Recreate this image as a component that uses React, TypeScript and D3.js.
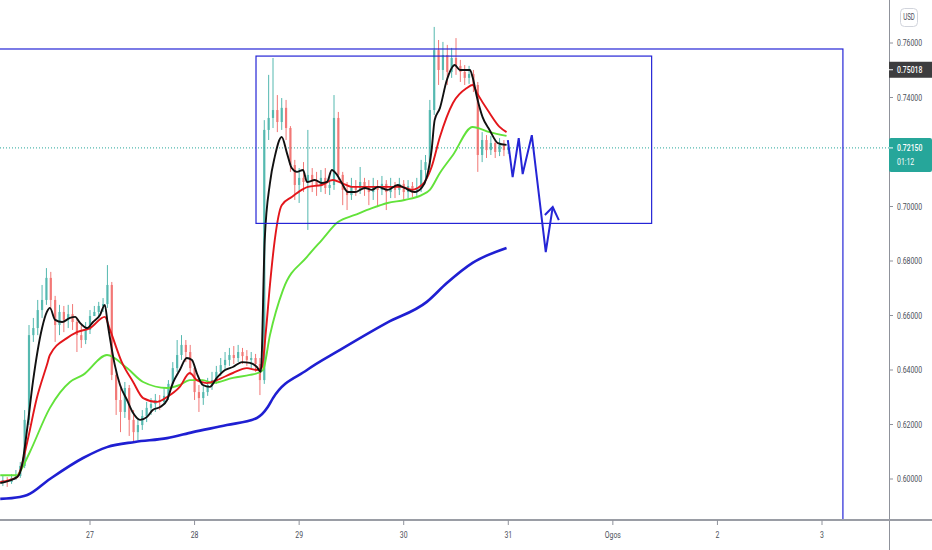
import React from 'react';
import * as d3 from 'd3';

const W = 932;
const H = 550;
const AXIS_X = 889; // right price axis
const AXIS_Y = 520; // bottom time axis

const DAY0 = Date.UTC(2020, 6, 27);
const at = (h: number) => new Date(DAY0 + h * 3600e3);

// hourly candles, first bar = 26 Jul 04:00 (hour -20), open of each bar = previous close
const FIRST_HOUR = -20;
const firstOpen = 0.5985;
const closes = [
  0.5996, 0.5989, 0.6004, 0.6011, 0.6048, 0.6217, 0.6528, 0.6554, 0.6620, 0.6657,
  0.6738, 0.6657, 0.6565, 0.6613, 0.6584, 0.6605, 0.6576, 0.6528, 0.6510, 0.6547,
  0.6598, 0.6613, 0.6635, 0.6642, 0.6712, 0.6382, 0.6290, 0.6246, 0.6334, 0.6217,
  0.6172, 0.6198, 0.6231, 0.6261, 0.6275, 0.6290, 0.6283, 0.6305, 0.6349, 0.6407,
  0.6455, 0.6492, 0.6466, 0.6407, 0.6319, 0.6297, 0.6319, 0.6345, 0.6363, 0.6393,
  0.6418, 0.6437, 0.6455, 0.6444, 0.6466, 0.6451, 0.6437, 0.6444, 0.6422, 0.6363,
  0.7281, 0.7325, 0.7354, 0.7310, 0.7362, 0.7288, 0.7152, 0.7079, 0.7105, 0.7090,
  0.7116, 0.7097, 0.7075, 0.7105, 0.7068, 0.7079, 0.7325, 0.7116, 0.7061, 0.7042,
  0.7075, 0.7061, 0.7090, 0.7068, 0.7053, 0.7075, 0.7061, 0.7083, 0.7053, 0.7075,
  0.7061, 0.7083, 0.7053, 0.7075, 0.7061, 0.7068, 0.7134, 0.7163, 0.7354, 0.7574,
  0.7501, 0.7556, 0.7494, 0.7545, 0.7516, 0.7494, 0.7472, 0.7486, 0.7446, 0.7189,
  0.7244, 0.7207, 0.7233, 0.7200, 0.7226, 0.7207, 0.7215,
];
const highs = [
  0.6011, 0.6007, 0.6018, 0.6033, 0.6062, 0.6253, 0.6565, 0.6591, 0.6657, 0.6712,
  0.6774, 0.6760, 0.6672, 0.6639, 0.6635, 0.6639, 0.6642, 0.6591, 0.6565, 0.6576,
  0.6620, 0.6635, 0.6650, 0.6664, 0.6785, 0.6723, 0.6400, 0.6334, 0.6356, 0.6345,
  0.6253, 0.6224, 0.6253, 0.6283, 0.6297, 0.6312, 0.6308, 0.6334, 0.6363, 0.6429,
  0.6510, 0.6528, 0.6510, 0.6492, 0.6418, 0.6345, 0.6341, 0.6371, 0.6393, 0.6415,
  0.6444, 0.6466, 0.6481, 0.6488, 0.6492, 0.6481, 0.6473, 0.6466, 0.6459, 0.6444,
  0.7317, 0.7483, 0.7545, 0.7409, 0.7398, 0.7391, 0.7295, 0.7171, 0.7141, 0.7163,
  0.7281, 0.7141, 0.7127, 0.7134, 0.7141, 0.7112, 0.7409, 0.7347, 0.7127, 0.7090,
  0.7105, 0.7097, 0.7145, 0.7105, 0.7097, 0.7105, 0.7097, 0.7112, 0.7097, 0.7105,
  0.7090, 0.7105, 0.7097, 0.7097, 0.7090, 0.7105, 0.7171, 0.7189, 0.7391, 0.7659,
  0.7611, 0.7604, 0.7593, 0.7582, 0.7618, 0.7538, 0.7519, 0.7516, 0.7501, 0.7457,
  0.7273, 0.7262, 0.7259, 0.7244, 0.7251, 0.7244, 0.7237,
];
const lows = [
  0.5974, 0.5971, 0.5982, 0.5996, 0.6004, 0.6040, 0.6198, 0.6503, 0.6528, 0.6591,
  0.6639, 0.6620, 0.6503, 0.6528, 0.6539, 0.6554, 0.6547, 0.6466, 0.6481, 0.6495,
  0.6532, 0.6598, 0.6591, 0.6613, 0.6628, 0.6363, 0.6235, 0.6172, 0.6224, 0.6158,
  0.6136, 0.6143, 0.6180, 0.6209, 0.6235, 0.6246, 0.6253, 0.6272, 0.6290, 0.6334,
  0.6393, 0.6437, 0.6429, 0.6382, 0.6290, 0.6246, 0.6272, 0.6305, 0.6327, 0.6349,
  0.6378, 0.6400, 0.6415, 0.6422, 0.6429, 0.6422, 0.6415, 0.6407, 0.6393, 0.6308,
  0.6349, 0.7244, 0.7288, 0.7273, 0.7281, 0.7244, 0.7127, 0.7024, 0.7013, 0.7053,
  0.6914, 0.7053, 0.7039, 0.7053, 0.7046, 0.7042, 0.7061, 0.7097, 0.7005, 0.6987,
  0.7024, 0.7039, 0.7046, 0.7039, 0.7005, 0.7024, 0.6998, 0.7042, 0.6987, 0.7031,
  0.7031, 0.7042, 0.7024, 0.7031, 0.7035, 0.7039, 0.7053, 0.7105, 0.7134, 0.7336,
  0.7446, 0.7464, 0.7446, 0.7472, 0.7483, 0.7457, 0.7446, 0.7450, 0.7420, 0.7127,
  0.7163, 0.7178, 0.7189, 0.7178, 0.7185, 0.7185, 0.7193,
];

// moving averages: [hour, price]
const maFast: [number, number][] = [
  [-20.6, 0.5985], [-16.7, 0.6007], [-15.6, 0.6051], [-14.4, 0.6187], [-13.1, 0.6356],
  [-11.0, 0.6554], [-9.9, 0.6613], [-9.2, 0.6628], [-8.0, 0.6584], [-6.4, 0.6576],
  [-4.6, 0.6591], [-3.4, 0.6595], [-2.3, 0.6573], [-0.7, 0.6554], [0.7, 0.6576],
  [2.3, 0.6602], [3.4, 0.6639], [4.1, 0.6565], [5.7, 0.6418], [6.9, 0.6345],
  [8.5, 0.6290], [9.9, 0.6242], [11.5, 0.6217], [13.1, 0.6228], [14.4, 0.6253],
  [16.1, 0.6264], [17.7, 0.6290], [19.0, 0.6352], [20.6, 0.6400], [22.2, 0.6444],
  [23.4, 0.6437], [24.5, 0.6389], [25.9, 0.6345], [27.5, 0.6338], [29.1, 0.6371],
  [31.0, 0.6400], [32.8, 0.6411], [34.9, 0.6429], [36.7, 0.6426], [38.3, 0.6411],
  [39.2, 0.6393], [40.1, 0.6877], [41.3, 0.7086], [42.4, 0.7182], [44.0, 0.7255],
  [45.2, 0.7196], [46.3, 0.7141], [47.5, 0.7127], [48.9, 0.7134], [49.8, 0.7090],
  [51.6, 0.7097], [53.2, 0.7086], [54.4, 0.7090], [55.5, 0.7134], [56.7, 0.7116],
  [57.8, 0.7086], [59.2, 0.7053], [60.8, 0.7053], [63.1, 0.7068], [64.7, 0.7061],
  [66.1, 0.7072], [68.3, 0.7061], [70.6, 0.7079], [72.2, 0.7068], [74.5, 0.7053],
  [76.1, 0.7068], [77.3, 0.7108], [78.4, 0.7207], [79.1, 0.7317], [80.3, 0.7361],
  [81.9, 0.7464], [83.7, 0.7519], [84.9, 0.7501], [87.2, 0.7501], [87.8, 0.7475],
  [88.8, 0.7402], [90.1, 0.7328], [91.7, 0.7281], [93.6, 0.7233], [95.6, 0.7226],
];
const maMid: [number, number][] = [
  [-20.6, 0.5989], [-16.7, 0.6007], [-16.1, 0.6026], [-14.4, 0.6136], [-12.2, 0.6297],
  [-9.9, 0.6418], [-9.2, 0.6455], [-5.3, 0.6517], [-3.0, 0.6539], [0, 0.6554],
  [3.4, 0.6595], [4.6, 0.6547], [7.3, 0.6429], [9.9, 0.6356], [12.2, 0.6297],
  [15.4, 0.6283], [17.7, 0.6301], [20.6, 0.6338], [22.9, 0.6389], [24.5, 0.6363],
  [26.8, 0.6352], [29.1, 0.6363], [32.8, 0.6389], [36.0, 0.6407], [38.3, 0.6400],
  [39.4, 0.6407], [40.4, 0.6547], [41.3, 0.6712], [42.4, 0.6877], [44.0, 0.7005],
  [46.3, 0.7035], [48.6, 0.7061], [50.0, 0.7072], [53.2, 0.7079], [55.7, 0.7097],
  [57.8, 0.7086], [60.1, 0.7072], [63.1, 0.7072], [68.3, 0.7072], [71.6, 0.7072],
  [73.9, 0.7061], [75.2, 0.7068], [76.8, 0.7090], [78.4, 0.7145], [80.3, 0.7255],
  [83.3, 0.7380], [86.5, 0.7435], [87.8, 0.7446], [88.8, 0.7417], [91.7, 0.7343],
  [94.0, 0.7292], [95.6, 0.7273],
];
const maSlow: [number, number][] = [
  [-20.6, 0.6014], [-16.7, 0.6014], [-16.1, 0.6026], [-13.8, 0.6099], [-9.2, 0.6261],
  [-4.6, 0.6356], [-1.6, 0.6382], [3.9, 0.6455], [8.5, 0.6407], [12.2, 0.6356],
  [17.7, 0.6334], [20.6, 0.6345], [22.9, 0.6363], [25.9, 0.6363], [28.2, 0.6352],
  [32.8, 0.6371], [36.7, 0.6382], [38.5, 0.6389], [39.7, 0.6400], [41.3, 0.6528],
  [44.3, 0.6694], [49.8, 0.6815], [53.2, 0.6877], [56.9, 0.6943], [60.8, 0.6969],
  [64.7, 0.6994], [68.3, 0.7013], [72.2, 0.7024], [76.1, 0.7042], [78.0, 0.7061],
  [80.3, 0.7123], [83.3, 0.7189], [87.8, 0.7292], [91.7, 0.7273], [95.6, 0.7259],
];
const ma200: [number, number][] = [
  [-20.6, 0.5927], [-16.1, 0.5934], [-14.4, 0.5941], [-9.2, 0.6000], [-1.6, 0.6077],
  [3.9, 0.6117], [10.3, 0.6136], [17.7, 0.6150], [23.6, 0.6172], [31.4, 0.6198],
  [38.3, 0.6224], [40.8, 0.6264], [42.0, 0.6297], [49.8, 0.6400], [57.3, 0.6473],
  [68.1, 0.6573], [77.3, 0.6650], [81.9, 0.6719], [87.8, 0.6793], [95.6, 0.6848],
];

// drawings on the chart
const outerBox = { from: -40, to: 172.8, top: 0.7578, bottom: 0.55 };
const innerBox = { from: 38.1, to: 128.9, top: 0.7552, bottom: 0.6938 };
const zigzag: [number, number][] = [
  [95.9, 0.7244], [97.0, 0.7108], [98.4, 0.7251], [99.3, 0.7119], [101.4, 0.7262],
  [104.6, 0.6833], [106.2, 0.6998],
];
const arrowHead: [number, number][] = [[104.4, 0.6969], [106.2, 0.6998], [107.6, 0.6950]];

const lastPrice = 0.7215;
const lastLabel = '0.72150';
const countdown = '01:12';
const markPrice = 0.75018;
const markLabel = '0.75018';

const priceTicks = [0.6, 0.62, 0.64, 0.66, 0.68, 0.7, 0.72, 0.74, 0.76];
const dayTicks = [0, 1, 2, 3, 4, 5, 6, 7];
const dayLabels = ['27', '28', '29', '30', '31', 'Ogos', '2', '3'];

const x = d3.scaleUtc().domain([at(0), at(7 * 24)]).range([90, 822]);
const y = d3.scaleLinear().domain([0.6, 0.76]).range([479, 43]);

const UP = '#26a69a';
const DOWN = '#ef5350';
const DRAW = '#2525d6';
const TEXT = '#4c4f59';
const FONT = 'Roboto, sans-serif';

const maLine = d3
  .line<[number, number]>()
  .x((d) => x(at(d[0])))
  .y((d) => y(d[1]))
  .curve(d3.curveMonotoneX);

const straight = d3
  .line<[number, number]>()
  .x((d) => x(at(d[0])))
  .y((d) => y(d[1]));

const Narrow: React.FC<{ x: number; y: number; anchor?: string; fill?: string; size?: number; weight?: number; children: React.ReactNode }> = ({
  x: tx, y: ty, anchor = 'start', fill = TEXT, size = 9.6, weight = 400, children,
}) => (
  <text
    transform={`translate(${tx},${ty}) scale(0.72,1)`}
    textAnchor={anchor}
    dominantBaseline="central"
    fontFamily={FONT}
    fontSize={size}
    fontWeight={weight}
    fill={fill}
  >
    {children}
  </text>
);

export default function App() {
  const barW = (x(at(1)) - x(at(0))) * 0.5;

  const candles = closes.map((c, i) => {
    const o = i === 0 ? firstOpen : closes[i - 1];
    const h = Math.max(highs[i], o, c);
    const l = Math.min(lows[i], o, c);
    const cx = x(at(FIRST_HOUR + i));
    const col = c >= o ? UP : DOWN;
    const top = y(Math.max(o, c));
    const bh = Math.max(1, y(Math.min(o, c)) - top);
    return (
      <g key={i} opacity={0.78}>
        <line x1={cx} x2={cx} y1={y(h)} y2={y(l)} stroke={col} strokeWidth={1} />
        <rect x={cx - barW / 2} y={top} width={barW} height={bh} fill={col} />
      </g>
    );
  });

  const box = (b: typeof innerBox) => ({
    x: x(at(b.from)),
    y: y(b.top),
    width: x(at(b.to)) - x(at(b.from)),
    height: y(b.bottom) - y(b.top),
  });

  const lastY = y(lastPrice);
  const markY = y(markPrice);

  return (
    <div style={{ position: 'absolute', left: 0, top: 0 }}>
      <svg width={W} height={H} style={{ display: 'block', background: '#fff' }}>
        <defs>
          <clipPath id="plot">
            <rect x={0} y={0} width={AXIS_X} height={AXIS_Y} />
          </clipPath>
        </defs>

        <g clipPath="url(#plot)">
          <line x1={0} x2={AXIS_X} y1={lastY} y2={lastY} stroke={UP} strokeWidth={1} strokeDasharray="1 2" />

          {candles}

          <path d={maLine(ma200) ?? ''} fill="none" stroke="#1f1fd2" strokeWidth={2.6} />
          <path d={maLine(maSlow) ?? ''} fill="none" stroke="#62e23a" strokeWidth={1.9} />
          <path d={maLine(maMid) ?? ''} fill="none" stroke="#e3161b" strokeWidth={1.9} />
          <path d={maLine(maFast) ?? ''} fill="none" stroke="#111" strokeWidth={1.9} />

          <rect {...box(outerBox)} fill="none" stroke={DRAW} strokeWidth={1.2} />
          <rect {...box(innerBox)} fill="none" stroke={DRAW} strokeWidth={1.2} />
          <path d={straight(zigzag) ?? ''} fill="none" stroke={DRAW} strokeWidth={2} strokeLinejoin="miter" />
          <path d={straight(arrowHead) ?? ''} fill="none" stroke={DRAW} strokeWidth={2} />
        </g>

        {/* axes */}
        <line x1={AXIS_X + 0.5} x2={AXIS_X + 0.5} y1={0} y2={H} stroke="#8f929b" strokeWidth={1} />
        <line x1={0} x2={W} y1={AXIS_Y} y2={AXIS_Y} stroke="#9a9da5" strokeWidth={2} />

        {priceTicks.map((p) => {
          const ty = y(p);
          const hidden = Math.abs(ty - lastY) < 14 || Math.abs(ty - markY) < 9;
          return (
            <g key={p}>
              <line x1={AXIS_X} x2={AXIS_X + 4} y1={ty} y2={ty} stroke="#8f929b" />
              {!hidden && <Narrow x={AXIS_X + 8} y={ty}>{p.toFixed(5)}</Narrow>}
            </g>
          );
        })}

        {dayTicks.map((d, i) => {
          const tx = x(at(d * 24));
          return (
            <g key={d}>
              <line x1={tx} x2={tx} y1={AXIS_Y} y2={AXIS_Y + 5} stroke="#8f929b" />
              <Narrow x={tx} y={535} anchor="middle">{dayLabels[i]}</Narrow>
            </g>
          );
        })}

        {/* price badges */}
        <rect x={AXIS_X} y={markY - 8} width={W - AXIS_X} height={16} fill="#3d3d3f" />
        <line x1={AXIS_X} x2={AXIS_X + 4} y1={markY} y2={markY} stroke="#fff" />
        <Narrow x={AXIS_X + 8} y={markY} fill="#fff" weight={500}>{markLabel}</Narrow>

        <rect x={AXIS_X} y={lastY - 10} width={W - AXIS_X} height={34} rx={2} fill={UP} />
        <line x1={AXIS_X} x2={AXIS_X + 4} y1={lastY} y2={lastY} stroke="#fff" />
        <Narrow x={AXIS_X + 8} y={lastY} fill="#fff" weight={500}>{lastLabel}</Narrow>
        <Narrow x={AXIS_X + 8} y={lastY + 14} fill="#fff">{countdown}</Narrow>

        <rect x={900.5} y={8.5} width={17} height={18} rx={4} fill="#fff" stroke="#d1d4dc" />
        <Narrow x={909} y={17.5} anchor="middle" size={8.5}>USD</Narrow>
      </svg>
    </div>
  );
}
